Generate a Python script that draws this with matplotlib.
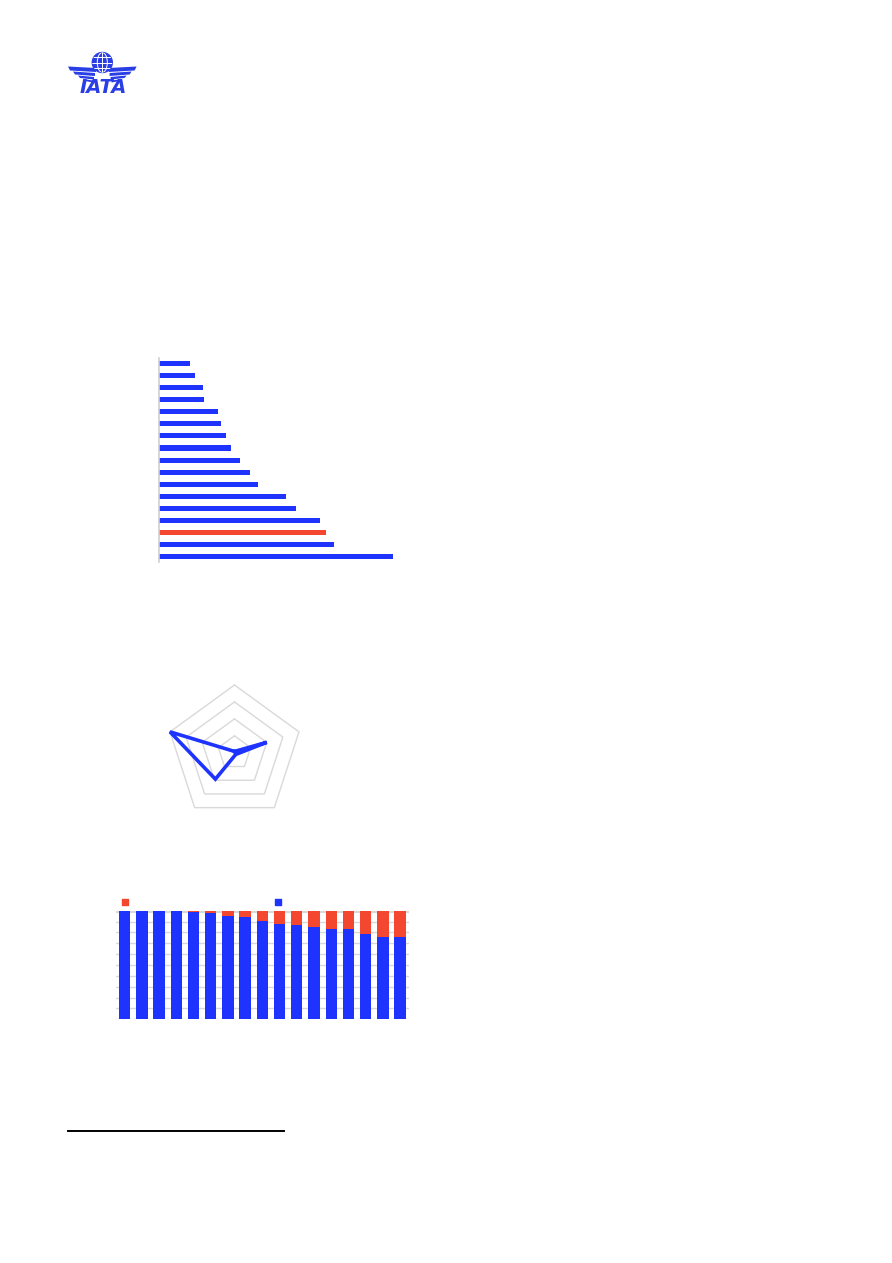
import numpy as np
import matplotlib
matplotlib.use('Agg')
import matplotlib.pyplot as plt
from matplotlib.patches import Circle, Ellipse, Polygon
from matplotlib.lines import Line2D

W, H = 892, 1263
BLUE = '#1f33ff'
RED = '#f4472f'
GRID = '#d9d9d9'

# horizontal bar chart (top to bottom), red one highlighted
bar_vals = [31, 36, 44, 45, 59, 62, 67, 72, 81, 91, 99, 127, 137, 161, 167, 175, 234]
bar_hl = 14

# radar chart, axes clockwise from the top
radar_vals = [0.02, 0.5, 0.03, 0.48, 1.0]
radar_rings = [0.25, 0.5, 0.75, 1.0]

# 100% stacked columns: blue share, red is the rest
share_blue = [1.0, 1.0, 1.0, 1.0, 0.991, 0.978, 0.954, 0.942, 0.908,
              0.88, 0.871, 0.849, 0.834, 0.831, 0.788, 0.76, 0.76]
share_red = [1 - b for b in share_blue]


def box(x0, y0, x1, y1):
    return [x0 / W, 1 - y1 / H, (x1 - x0) / W, (y1 - y0) / H]


fig = plt.figure(figsize=(W / 100, H / 100), dpi=100)

# ---- logo ----
LOGO = '#2a3ee6'
lg = fig.add_axes(box(60, 40, 150, 110))
lg.set_xlim(60, 150)
lg.set_ylim(110, 40)
lg.axis('off')
lg.set_aspect('equal')
globe = Circle((102.3, 62.5), 10, color=LOGO)
lg.add_patch(globe)
e = Ellipse((102.3, 62.5), 10, 20, fill=False, ec='white', lw=0.7)
lg.add_patch(e)
e.set_clip_path(globe)
for seg in [([102.3, 102.3], [52, 73]), ([90, 115], [62.5, 62.5]),
            ([90, 115], [57, 57]), ([90, 115], [68, 68])]:
    ln, = lg.plot(seg[0], seg[1], color='white', lw=0.7)
    ln.set_clip_path(globe)
stripes = [(66.5, 70.5, 68, 96), (71.5, 74.5, 73, 95), (75.5, 78.0, 78, 94), (79, 81, 83, 93)]
for ya, yb, xa, xb in stripes:
    lg.add_patch(Polygon([[xa, ya], [xb, ya + 1.5], [xb, yb + 1.5], [xa + 2, yb]], color=LOGO, lw=0))
    lg.add_patch(Polygon([[204.6 - xa, ya], [204.6 - xb, ya + 1.5], [204.6 - xb, yb + 1.5],
                          [204.6 - xa - 2, yb]], color=LOGO, lw=0))
lg.text(103, 87.5, 'IATA', color=LOGO, fontsize=14, fontweight='heavy', style='italic',
        ha='center', va='center', family='DejaVu Sans')

# ---- horizontal bars ----
ax1 = fig.add_axes(box(159, 357.7, 409, 562.4))
pos = np.arange(len(bar_vals))
cols = [RED if i == bar_hl else BLUE for i in pos]
ax1.barh(pos, bar_vals, height=0.42, color=cols)
ax1.set_xlim(0, 250)
ax1.set_ylim(16.5, -0.5)
for s in ['top', 'right', 'bottom']:
    ax1.spines[s].set_visible(False)
ax1.spines['left'].set_color('#d0d0d0')
ax1.spines['left'].set_linewidth(1.2)
ax1.set_xticks([])
ax1.set_yticks([])
ax1.patch.set_alpha(0)

# ---- radar ----
R = 67.8
ax2 = fig.add_axes(box(234.5 - 80, 752.8 - 80, 234.5 + 80, 752.8 + 80))
lim = 80 / R
ax2.set_xlim(-lim, lim)
ax2.set_ylim(-lim, lim)
ax2.axis('off')
ang = np.deg2rad(90 - 72 * np.arange(5))
for r in radar_rings:
    xs = np.append(r * np.cos(ang), r * np.cos(ang[0]))
    ys = np.append(r * np.sin(ang), r * np.sin(ang[0]))
    ax2.plot(xs, ys, color=GRID, lw=1.0)
v = np.array(radar_vals + radar_vals[:1])
a = np.append(ang, ang[0])
ax2.plot(v * np.cos(a), v * np.sin(a), color=BLUE, lw=2.6, solid_joinstyle='miter')

# ---- stacked columns ----
ax3 = fig.add_axes(box(116, 910.7, 408.7, 1019.2))
x = np.arange(len(share_blue))
ax3.bar(x, share_blue, width=0.66, color=BLUE, zorder=3)
ax3.bar(x, share_red, bottom=share_blue, width=0.66, color=RED, zorder=3)
ax3.set_xlim(-0.5, 16.5)
ax3.set_ylim(0, 1)
ax3.set_yticks(np.arange(0, 1.01, 0.1))
ax3.yaxis.grid(True, color=GRID, lw=1.0, zorder=0)
ax3.axhline(1.0, color=GRID, lw=2.2, zorder=1)
ax3.set_axisbelow(True)
ax3.tick_params(length=0, labelleft=False, labelbottom=False)
ax3.set_xticks([])
for s in ax3.spines.values():
    s.set_visible(False)
ax3.scatter([(124.8 - 116) / 292.7, (278 - 116) / 292.7], [(1019.2 - 902) / 108.5] * 2,
            marker='s', s=20, color=[RED, BLUE], transform=ax3.transAxes, clip_on=False)

# footnote rule
fig.add_artist(Line2D([68 / W, 283.5 / W], [1 - 1131 / H] * 2, color='black', lw=1.4))

fig.savefig('out.png', dpi=100)
